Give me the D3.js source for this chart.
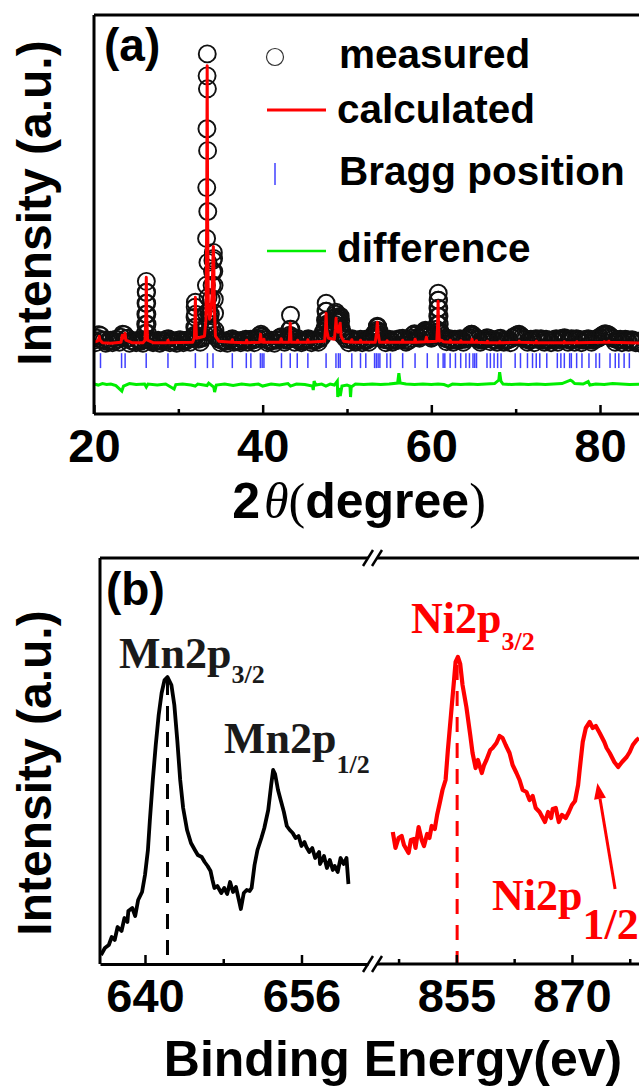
<!DOCTYPE html>
<html>
<head>
<meta charset="utf-8">
<script src="https://cdnjs.cloudflare.com/ajax/libs/d3/7.8.5/d3.min.js"></script>
<style>
  html, body { margin: 0; padding: 0; background: #fff; }
  svg { display: block; }
  text { font-family: "Liberation Sans", Arial, sans-serif; font-weight: bold; fill: #000; }
  .serif { font-family: "Liberation Serif", "Times New Roman", serif; font-weight: normal; }
</style>
</head>
<body>
<svg id="chart" width="639" height="1089"></svg>
<script>
// ---- panel (a): XRD Rietveld refinement ----
// measured background points [2theta, intensity]
const measuredBg = [
  [20.0,40],[20.4,60],[20.8,85],[21.2,35],[21.6,25],[22.0,40],[22.4,30],[22.8,45],[23.2,70],[23.6,95],
  [24.0,60],[24.4,35],[24.8,25],[25.2,40],[25.6,30],[26.0,45],[26.4,50],[26.8,30],[27.2,25],[27.6,40],
  [28.0,30],[28.4,35],[28.8,55],[29.2,30],[29.6,25],[30.0,40],[30.4,30],[30.8,35],[31.2,45],[31.6,60],
  [32.0,80],[32.4,50],[32.8,60],[33.2,90],[33.6,120],[34.0,150],[34.4,90],[34.8,50],[35.2,35],[35.6,30],
  [36.0,40],[36.4,55],[36.8,35],[37.2,30],[37.6,40],[38.0,50],[38.4,45],[38.8,40],[39.2,50],[39.6,85],
  [40.0,80],[40.4,45],[40.8,30],[41.2,35],[41.6,40],[42.0,65],[42.4,55],[42.8,40],[43.2,90],[43.6,60],
  [44.0,45],[44.4,35],[44.8,30],[45.2,45],[45.6,40],[46.0,35],[46.4,40],[46.8,55],[47.2,120],[47.6,200],
  [48.0,140],[48.4,170],[48.8,220],[49.2,180],[49.6,90],[50.0,50],[50.4,45],[50.8,35],[51.2,40],[51.6,50],
  [52.0,35],[52.4,40],[52.8,60],[53.2,100],[53.6,170],[54.0,90],[54.4,45],[54.8,40],[55.2,35],[55.6,45],
  [56.0,40],[56.4,50],[56.8,40],[57.2,35],[57.6,60],[58.0,105],[58.4,70],[58.8,80],[59.2,120],[59.6,110],
  [60.0,60],[60.4,90],[61.2,100],[61.6,60],[62.0,45],[62.4,40],[62.8,50],[63.2,40],[63.6,45],[64.0,50],
  [64.4,70],[64.8,100],[65.2,70],[65.6,45],[66.0,40],[66.4,50],[66.8,60],[67.2,45],[67.6,40],[68.0,55],
  [68.4,40],[68.8,35],[69.2,45],[69.6,60],[70.0,80],[70.4,100],[70.8,70],[71.2,50],[71.6,40],[72.0,45],
  [72.4,55],[72.8,45],[73.2,40],[73.6,50],[74.0,40],[74.4,45],[74.8,55],[75.2,45],[75.6,60],[76.0,50],
  [76.4,40],[76.8,50],[77.2,55],[77.6,45],[78.0,40],[78.4,50],[78.8,45],[79.2,40],[79.6,55],[80.0,70],
  [80.4,95],[80.8,100],[81.2,80],[81.6,55],[82.0,45],[82.4,50],[82.8,40],[83.2,45],[83.6,40],[84.0,35],
  [84.4,30],[84.8,10]
];
// measured background points between the ones above
const measuredBg2 = [
  [20.2,15],[20.6,95],[21.0,45],[21.4,10],[21.8,35],[22.2,15],[22.6,50],[23.0,20],[23.4,100],[23.8,55],
  [24.2,10],[24.6,30],[25.0,15],[25.4,35],[25.8,10],[26.6,40],[27.0,15],[27.4,30],[27.8,10],[28.2,25],
  [28.6,50],[29.0,15],[29.4,35],[29.8,10],[30.2,45],[30.6,15],[31.0,40],[31.4,20],[31.8,70],[32.2,60],
  [32.6,20],[33.0,70],[33.8,200],[34.6,60],[35.0,15],[35.4,30],[35.8,10],[36.2,45],[36.6,20],[37.0,35],
  [37.4,15],[37.8,40],[38.2,20],[38.6,50],[39.0,15],[39.4,60],[39.8,100],[40.2,60],[40.6,15],[41.0,40],
  [41.4,10],[41.8,45],[42.2,75],[42.6,20],[43.0,50],[43.4,80],[43.8,20],[44.2,55],[44.6,15],[45.0,35],
  [45.4,55],[45.8,15],[46.2,45],[46.6,20],[47.0,70],[47.4,160],[47.8,190],[48.2,150],[48.6,230],[49.0,240],
  [49.4,120],[49.8,60],[50.2,15],[50.6,55],[51.0,20],[51.4,35],[51.8,15],[52.2,50],[52.6,20],[53.0,70],
  [53.4,120],[53.8,130],[54.2,60],[54.6,15],[55.0,50],[55.4,20],[55.8,35],[56.2,55],[56.6,60],[57.0,20],
  [57.4,40],[57.8,90],[58.2,90],[58.6,60],[59.0,100],[59.4,130],[59.8,80],[60.2,70],[60.6,150],[61.0,130],
  [61.4,80],[61.8,25],[62.2,55],[62.6,20],[63.0,40],[63.4,55],[63.8,20],[64.2,60],[64.6,90],[65.0,85],
  [65.4,55],[65.8,20],[66.2,45],[66.6,65],[67.0,25],[67.4,45],[67.8,20],[68.2,60],[68.6,20],[69.0,40],
  [69.4,15],[69.8,75],[70.2,95],[70.6,85],[71.0,55],[71.4,20],[71.8,50],[72.2,15],[72.6,50],[73.0,55],
  [73.4,20],[73.8,40],[74.2,15],[74.6,45],[75.0,20],[75.4,55],[75.8,65],[76.2,20],[76.6,55],[77.0,20],
  [77.4,50],[77.8,15],[78.2,45],[78.6,55],[79.0,20],[79.4,45],[79.8,60],[80.2,85],[80.6,105],[81.0,95],
  [81.4,65],[81.8,20],[82.2,40],[82.6,15],[83.0,50],[83.4,20],[83.8,45],[84.2,15],[84.6,30]
];
// measured points on the Bragg peaks
const measuredPeaks = [
  [26.10,110],[26.13,200],[26.15,300],[26.17,410],[26.19,520],[26.21,630],[26.23,520],[26.25,410],[26.27,300],[26.29,200],[26.32,110],
  [31.92,90],[31.95,170],[31.98,270],[32.00,370],[32.02,420],[32.05,300],[32.08,170],[32.11,90],
  [33.28,170],[33.31,310],[33.33,590],[33.35,1060],[33.37,1570],[33.39,2160],[33.41,2690],[33.43,2910],[33.45,2560],
  [33.47,1940],[33.49,1330],[33.51,820],[33.53,470],[33.60,320],[33.70,250],[33.80,300],[33.90,450],[34.00,590],
  [34.05,730],[34.10,840],[34.15,920],[34.18,860],[34.21,730],[34.24,590],[34.27,450],[34.30,310],[34.34,140],
  [43.20,70],[43.25,150],[43.30,290],[43.35,150],[43.40,70],
  [47.40,140],[47.45,240],[47.50,330],[47.53,410],[47.57,330],[47.62,240],[47.70,200],[47.80,180],
  [48.55,200],[48.62,260],[48.68,320],[48.72,300],[48.80,250],[48.90,230],[49.00,260],[49.10,270],[49.20,280],[49.25,230],[49.32,150],[49.40,100],
  [53.50,90],[53.55,140],[53.60,180],[53.65,170],[53.70,120],[53.75,70],
  [59.10,90],[59.20,130],[59.30,140],[59.40,120],[59.50,90],
  [60.70,120],[60.73,200],[60.76,280],[60.78,360],[60.80,440],[60.82,510],[60.85,440],[60.88,360],[60.91,280],[60.94,200],[60.97,120],
  [64.75,100],[64.85,90]
];
// calculated profile [2theta, intensity]
const calculated = [
  [20.0,20],[20.4,30],[20.55,50],[20.62,80],[20.7,40],[21.0,15],[22.0,10],[23.2,20],[23.35,90],[23.45,60],[23.6,70],[23.68,110],[23.78,40],
  [24.5,15],[25.8,15],[26.05,40],[26.15,300],[26.2,670],[26.25,300],[26.35,40],[27.0,15],[28.7,15],[28.77,40],[28.85,15],
  [31.7,20],[31.9,60],[31.97,250],[32.02,470],[32.07,250],[32.15,60],[33.1,80],[33.28,250],[33.36,1200],[33.42,2790],[33.48,1200],
  [33.56,400],[33.7,250],[33.85,300],[34.0,500],[34.1,850],[34.15,980],[34.2,850],[34.28,350],[34.4,80],[34.8,30],
  [36.3,20],[36.4,45],[36.5,20],[38.0,15],[38.1,40],[38.2,15],[39.65,20],[39.75,100],[39.85,25],[40.1,20],[40.15,50],[40.2,20],
  [42.1,20],[42.2,55],[42.3,20],[43.15,20],[43.27,210],[43.37,20],[44.1,20],[44.15,40],[44.2,20],[45.3,20],[45.36,45],[45.42,20],
  [47.35,30],[47.45,150],[47.52,310],[47.6,140],[47.8,60],[48.5,50],[48.62,150],[48.7,260],[48.78,150],[48.95,120],[49.1,180],
  [49.19,210],[49.3,80],[49.6,30],[50.5,20],[50.57,45],[50.65,20],[51.55,20],[51.6,40],[51.7,20],[53.35,20],[53.5,110],[53.6,220],
  [53.7,110],[53.85,20],[54.7,20],[54.75,35],[54.8,20],[56.55,20],[56.6,40],[56.65,20],[58.0,20],[58.08,50],[58.16,20],
  [59.3,25],[59.42,70],[59.52,25],[60.65,30],[60.75,200],[60.8,430],[60.85,200],[60.95,30],[61.2,40],[61.4,25],[62.2,20],
  [62.25,40],[62.3,20],[63.45,20],[63.5,35],[63.55,20],[64.75,20],[64.82,50],[64.9,20],[65.3,20],[65.35,35],[65.4,20],
  [66.6,15],[66.65,30],[66.7,15],[68.05,15],[68.1,25],[68.15,15],[70.35,20],[70.42,30],[70.5,20],[72.4,15],[72.45,30],[72.5,15],
  [75.7,15],[75.77,25],[75.85,15],[77.2,15],[77.25,25],[77.3,15],[80.45,20],[80.5,25],[80.55,20],[81.0,20],[81.05,30],[81.12,20],
  [83.5,15],[84.9,10]
];
// difference curve (offset below the pattern)
const difference = [
  [20.0,0],[20.5,-10],[21.0,5],[21.5,-5],[22.0,0],[22.6,-15],[23.3,-70],[23.5,-20],[24.2,5],[25.0,-5],[26.0,0],[26.2,-30],
  [26.4,0],[27.5,-10],[28.5,0],[29.5,-50],[29.7,-5],[30.5,0],[31.5,-10],[32.0,-20],[32.3,0],[33.0,-10],[33.4,-15],[33.6,10],
  [34.2,-30],[34.3,-80],[34.5,-10],[35.5,0],[36.5,-15],[37.5,0],[38.5,-10],[39.5,0],[40.0,-20],[41.0,0],[42.0,-10],[43.0,5],
  [43.3,-20],[44.0,0],[45.0,-5],[45.9,-20],[46.0,-60],[46.1,30],[46.3,-10],[47.0,0],[47.5,-20],[48.0,0],[48.5,-10],[48.85,30],
  [48.9,-130],[49.0,-40],[49.2,-120],[49.4,-20],[50.0,-10],[50.35,-20],[50.42,-130],[50.5,-30],[51.0,0],[52.0,-5],[53.0,0],
  [54.0,-5],[55.0,0],[56.0,10],[56.15,110],[56.3,10],[57.0,0],[58.0,-5],[59.0,0],[60.0,-5],[60.8,0],[61.5,-5],[62.0,-20],
  [62.5,0],[63.5,-5],[64.5,0],[65.5,-5],[66.5,0],[67.5,5],[68.0,40],[68.1,120],[68.25,30],[68.5,0],[69.5,-5],[70.5,0],
  [71.5,-5],[72.5,0],[73.5,-5],[74.5,0],[75.5,5],[76.5,40],[76.7,30],[77.0,5],[78.0,0],[78.6,25],[78.8,-10],[79.5,0],
  [80.5,-5],[81.5,5],[82.5,0],[83.5,-5],[84.9,0]
];
const braggPositions = [
  20.77,23.27,23.69,26.19,28.77,32.02,33.45,34.11,36.4,38.06,38.6,39.73,39.94,40.15,42.23,43.27,44.1,45.36,47.52,48.69,
  48.98,49.19,50.57,51.6,52.23,53.27,53.48,53.69,53.9,54.73,55.15,56.6,58.07,59.52,60.8,61.4,61.6,62.23,62.86,63.48,
  64.1,64.52,64.94,65.15,65.36,66.6,67.0,67.44,67.86,68.27,69.94,70.57,71.4,72.0,72.44,72.86,73.69,74.94,75.36,75.77,
  76.4,76.6,77.23,77.86,78.69,79.52,79.94,81.19,81.81,82.23,82.86,83.48
];
const xTicksA = [20, 40, 60, 80];
const xMinorA = [30, 50, 70];
const legendA = ['measured', 'calculated', 'Bragg position', 'difference'];

// ---- panel (b): XPS spectra ----
const mnSpectrum = [
  [635.5,90],[635.9,160],[636.3,190],[636.6,270],[636.9,240],[637.2,370],[637.6,330],[637.9,460],[638.2,420],[638.3,530],
  [638.7,560],[639.0,480],[639.3,640],[639.7,720],[640.0,890],[640.3,1140],[640.5,1440],[640.8,1840],[641.1,2190],[641.4,2490],
  [641.7,2710],[642.0,2840],[642.3,2870],[642.7,2790],[643.0,2590],[643.3,2240],[643.6,1840],[643.9,1560],[644.3,1340],[644.7,1210],
  [645.1,1140],[645.4,1090],[645.8,1070],[646.1,1020],[646.4,980],[646.7,930],[646.9,840],[647.1,760],[647.4,780],[647.8,710],
  [648.1,760],[648.4,700],[648.7,820],[649.0,720],[649.3,770],[649.6,640],[649.8,550],[650.1,710],[650.4,740],[650.7,730],
  [650.9,760],[651.2,990],[651.5,1140],[651.9,1260],[652.2,1360],[652.6,1540],[652.9,1790],[653.1,1940],[653.3,1900],[653.6,1740],
  [653.9,1630],[654.2,1520],[654.5,1380],[654.8,1340],[655.1,1310],[655.4,1260],[655.7,1280],[656.0,1180],[656.3,1220],[656.5,1170],
  [656.8,1120],[657.1,1160],[657.4,1060],[657.8,1120],[657.9,1000],[658.3,1080],[658.6,960],[658.9,1040],[659.2,940],[659.4,980],
  [659.7,920],[660.0,1060],[660.3,1000],[660.6,1060],[660.8,800]
];
const niSpectrum = [
  [846.75,1320],[847.1,1160],[847.5,1260],[847.9,1280],[848.2,1190],[848.8,1110],[849.1,1240],[849.5,1250],[849.7,1160],[850.1,1370],
  [850.5,1240],[850.8,1180],[851.2,1300],[851.5,1260],[851.8,1380],[852.2,1350],[852.5,1490],[852.9,1630],[853.2,1740],[853.6,1840],
  [853.9,2140],[854.3,2490],[854.7,2840],[854.9,3020],[855.2,3070],[855.5,3000],[855.8,2790],[856.3,2570],[856.8,2290],[857.1,2110],
  [857.5,1960],[857.8,2040],[858.3,1910],[858.6,1990],[858.9,2040],[859.4,2140],[859.7,2160],[860.2,2210],[860.6,2280],[861.0,2260],
  [861.4,2190],[861.9,2110],[862.3,1990],[862.8,1910],[863.2,1840],[863.6,1740],[864.1,1720],[864.5,1640],[864.9,1680],[865.3,1560],
  [865.8,1520],[866.5,1420],[866.9,1520],[867.3,1460],[867.5,1550],[867.9,1560],[868.3,1420],[868.7,1490],[869.2,1460],[869.6,1520],
  [870.0,1590],[870.4,1630],[870.8,1790],[871.0,1940],[871.4,2220],[871.8,2360],[872.3,2420],[872.7,2360],[873.1,2380],[873.6,2310],
  [874.2,2220],[874.5,2160],[874.9,2110],[875.5,2020],[876.0,1970],[876.5,2020],[877.1,2070],[877.5,2120],[877.9,2190],[878.4,2240],
  [878.7,2260]
];
const mnTicksMajor = [640, 656];
const mnTicksMinor = [648];
const niTicksMajor = [855, 870];
const niTicksMinor = [847.5, 862.5, 877.5];
const mnPeakLine = [642.3, 2840];   // energy, top of dashed marker
const niPeakLine = [855.1, 2990];
const niArrow = [[875.6, 750], [873.3, 1810]]; // tail, tip

const svg = d3.select('#chart');

svg.append('defs').append('clipPath').attr('id', 'clipA')
  .append('rect').attr('x', 94).attr('y', 15).attr('width', 560).attr('height', 399);

// ================= panel (a) =================
const xA = d3.scaleLinear().domain([20, 80]).range([94, 600]);
const yA = d3.scaleLinear().domain([-700, 3300]).range([414, 15]);
const diffOffset = -400;

const gA = svg.append('g');
const plotA = gA.append('g').attr('clip-path', 'url(#clipA)');

plotA.selectAll('circle.meas')
  .data(measuredBg.concat(measuredBg2, measuredPeaks))
  .join('circle')
  .attr('class', 'meas')
  .attr('cx', d => xA(d[0]))
  .attr('cy', d => yA(d[1]))
  .attr('r', 8.5)
  .attr('fill', 'none')
  .attr('stroke', '#111')
  .attr('stroke-width', 1.9);

const lineA = d3.line().x(d => xA(d[0])).y(d => yA(d[1]));
plotA.append('path')
  .attr('d', lineA(calculated))
  .attr('fill', 'none')
  .attr('stroke', '#ff0000')
  .attr('stroke-width', 3)
  .attr('stroke-linejoin', 'round');

plotA.selectAll('line.bragg')
  .data(braggPositions)
  .join('line')
  .attr('class', 'bragg')
  .attr('x1', d => xA(d)).attr('x2', d => xA(d))
  .attr('y1', yA(-90)).attr('y2', yA(-240))
  .attr('stroke', '#4040ff')
  .attr('stroke-width', 1.5);

plotA.append('path')
  .attr('d', d3.line().x(d => xA(d[0])).y(d => yA(diffOffset + d[1]))(difference))
  .attr('fill', 'none')
  .attr('stroke', '#00ee00')
  .attr('stroke-width', 3);

// frame (a)
gA.append('line').attr('x1', 94).attr('x2', 639).attr('y1', 15).attr('y2', 15)
  .attr('stroke', '#000').attr('stroke-width', 3);
gA.append('line').attr('x1', 94).attr('x2', 94).attr('y1', 15).attr('y2', 414)
  .attr('stroke', '#000').attr('stroke-width', 3);

const axisA = gA.append('g').attr('transform', 'translate(0,414)')
  .call(d3.axisBottom(xA).tickValues(xTicksA).tickSizeInner(-9).tickSizeOuter(0).tickPadding(20)
    .tickFormat(d3.format('d')));
axisA.select('.domain').attr('stroke-width', 3).attr('d', 'M94,0H639');
axisA.selectAll('.tick line').attr('stroke-width', 2.5);
axisA.selectAll('.tick text').attr('font-size', 47).attr('font-weight', 'bold')
  .attr('font-family', '"Liberation Sans", Arial, sans-serif').attr('fill', '#000')
  .attr('dy', null).attr('y', 48);
gA.append('g').attr('transform', 'translate(0,414)')
  .call(d3.axisBottom(xA).tickValues(xMinorA).tickSizeInner(-5).tickSizeOuter(0).tickFormat(''))
  .call(g => g.select('.domain').remove())
  .selectAll('.tick line').attr('stroke-width', 2.5);

gA.append('text').attr('x', 104).attr('y', 61).attr('font-size', 46).text('(a)');

gA.append('text')
  .attr('transform', 'translate(51,203) rotate(-90)')
  .attr('text-anchor', 'middle')
  .attr('font-size', 48)
  .text('Intensity (a.u.)');

const titleA = gA.append('text').attr('x', 359).attr('y', 518).attr('text-anchor', 'middle').attr('font-size', 50);
titleA.append('tspan').text('2');
titleA.append('tspan').attr('class', 'serif').attr('font-style', 'italic').attr('dx', 4).text('θ');
titleA.append('tspan').attr('class', 'serif').text('(');
titleA.append('tspan').text('degree');
titleA.append('tspan').attr('class', 'serif').text(')');

// legend (a)
const legA = gA.append('g');
legA.append('circle').attr('cx', 275).attr('cy', 57).attr('r', 8.5)
  .attr('fill', 'none').attr('stroke', '#333').attr('stroke-width', 1.2);
legA.append('line').attr('x1', 267).attr('x2', 326).attr('y1', 110).attr('y2', 110)
  .attr('stroke', '#ff0000').attr('stroke-width', 3);
legA.append('line').attr('x1', 275).attr('x2', 275).attr('y1', 163).attr('y2', 185)
  .attr('stroke', '#4040ff').attr('stroke-width', 1.5);
legA.append('line').attr('x1', 267).attr('x2', 326).attr('y1', 251).attr('y2', 251)
  .attr('stroke', '#00ee00').attr('stroke-width', 2.5);
const legY = [68, 123, 185, 262];
legA.selectAll('text.leg').data(legendA).join('text')
  .attr('class', 'leg')
  .attr('x', (d, i) => i === 0 || i === 2 ? 339 : 337)
  .attr('y', (d, i) => legY[i])
  .attr('font-size', 40.5)
  .text(d => d);

// ================= panel (b) =================
const xMn = d3.scaleLinear().domain([635.4, 662.8]).range([100, 368]);
const xNi = d3.scaleLinear().domain([844.7, 880]).range([377, 649]);
const yB = d3.scaleLinear().domain([0, 4060]).range([964, 558]);
const gB = svg.append('g');

// dashed peak markers
gB.append('line')
  .attr('x1', xMn(mnPeakLine[0])).attr('x2', xMn(mnPeakLine[0]))
  .attr('y1', yB(mnPeakLine[1])).attr('y2', yB(0))
  .attr('stroke', '#000').attr('stroke-width', 3).attr('stroke-dasharray', '15,11');
gB.append('line')
  .attr('x1', xNi(niPeakLine[0])).attr('x2', xNi(niPeakLine[0]))
  .attr('y1', yB(niPeakLine[1])).attr('y2', yB(0))
  .attr('stroke', '#ff0000').attr('stroke-width', 3).attr('stroke-dasharray', '15,11');

gB.append('path')
  .attr('d', d3.line().x(d => xMn(d[0])).y(d => yB(d[1]))(mnSpectrum))
  .attr('fill', 'none').attr('stroke', '#000').attr('stroke-width', 3.8).attr('stroke-linejoin', 'round');
gB.append('path')
  .attr('d', d3.line().x(d => xNi(d[0])).y(d => yB(d[1]))(niSpectrum))
  .attr('fill', 'none').attr('stroke', '#ff0000').attr('stroke-width', 4.2).attr('stroke-linejoin', 'round');

// frame (b) with axis break
gB.append('line').attr('x1', 100).attr('x2', 100).attr('y1', 558).attr('y2', 964)
  .attr('stroke', '#000').attr('stroke-width', 3);
[[100, 368], [377, 639]].forEach(([a, b]) => {
  gB.append('line').attr('x1', a).attr('x2', b).attr('y1', 558).attr('y2', 558)
    .attr('stroke', '#000').attr('stroke-width', 3);
});
const axisMn = gB.append('g').attr('transform', 'translate(0,964)')
  .call(d3.axisBottom(xMn).tickValues(mnTicksMajor).tickSizeInner(-9).tickSizeOuter(0).tickPadding(20)
    .tickFormat(d3.format('d')));
const axisNi = gB.append('g').attr('transform', 'translate(0,964)')
  .call(d3.axisBottom(xNi).tickValues(niTicksMajor).tickSizeInner(-9).tickSizeOuter(0).tickPadding(20)
    .tickFormat(d3.format('d')));
[axisMn, axisNi].forEach(ax => {
  ax.select('.domain').attr('stroke-width', 3);
  ax.selectAll('.tick line').attr('stroke-width', 2.5);
  ax.selectAll('.tick text').attr('font-size', 47).attr('font-weight', 'bold')
    .attr('font-family', '"Liberation Sans", Arial, sans-serif').attr('fill', '#000')
    .attr('dy', null).attr('y', 48);
});
axisNi.select('.domain').attr('d', 'M377,0H639');
[[xMn, mnTicksMinor], [xNi, niTicksMinor]].forEach(([sc, vals]) => {
  gB.append('g').attr('transform', 'translate(0,964)')
    .call(d3.axisBottom(sc).tickValues(vals).tickSizeInner(-5).tickSizeOuter(0).tickFormat(''))
    .call(g => g.select('.domain').remove())
    .selectAll('.tick line').attr('stroke-width', 2.5);
});
// break marks
[558, 964].forEach(y => {
  [368, 377].forEach(x => {
    gB.append('line').attr('x1', x - 5).attr('y1', y + 8).attr('x2', x + 5).attr('y2', y - 8)
      .attr('stroke', '#000').attr('stroke-width', 2.5);
  });
});

gB.append('text').attr('x', 106).attr('y', 605).attr('font-size', 46).text('(b)');
gB.append('text')
  .attr('transform', 'translate(51,773) rotate(-90)')
  .attr('text-anchor', 'middle')
  .attr('font-size', 48)
  .text('Intensity (a.u.)');
gB.append('text').attr('x', 393).attr('y', 1076).attr('text-anchor', 'middle')
  .attr('font-size', 50).text('Binding Energy(ev)');

// peak labels
function peakLabel(x, y, main, sub, color, subSize, subDy) {
  const t = gB.append('text').attr('class', 'serif').attr('x', x).attr('y', y)
    .attr('font-size', 44).style('font-weight', 'bold').style('fill', color);
  t.append('tspan').text(main);
  t.append('tspan').attr('font-size', subSize).attr('dy', subDy).text(sub);
}
peakLabel(119, 668, 'Mn2p', '3/2', '#1a1a1a', 26, 15);
peakLabel(224, 753, 'Mn2p', '1/2', '#1a1a1a', 26, 20);
peakLabel(411, 633, 'Ni2p', '3/2', '#ff0000', 26, 17);
peakLabel(492, 910, 'Ni2p', '1/2', '#ff0000', 44, 29);

// arrow to Ni2p1/2
const tail = [xNi(niArrow[0][0]), yB(niArrow[0][1])];
const tip = [xNi(niArrow[1][0]), yB(niArrow[1][1])];
const ang = Math.atan2(tip[1] - tail[1], tip[0] - tail[0]);
const hl = 16, hw = 6;
const base = [tip[0] - hl * Math.cos(ang), tip[1] - hl * Math.sin(ang)];
gB.append('line').attr('x1', tail[0]).attr('y1', tail[1]).attr('x2', base[0]).attr('y2', base[1])
  .attr('stroke', '#ff0000').attr('stroke-width', 3);
gB.append('path')
  .attr('d', `M${tip[0]},${tip[1]}L${base[0] + hw * Math.sin(ang)},${base[1] - hw * Math.cos(ang)}L${base[0] - hw * Math.sin(ang)},${base[1] + hw * Math.cos(ang)}Z`)
  .attr('fill', '#ff0000');
</script>
</body>
</html>
